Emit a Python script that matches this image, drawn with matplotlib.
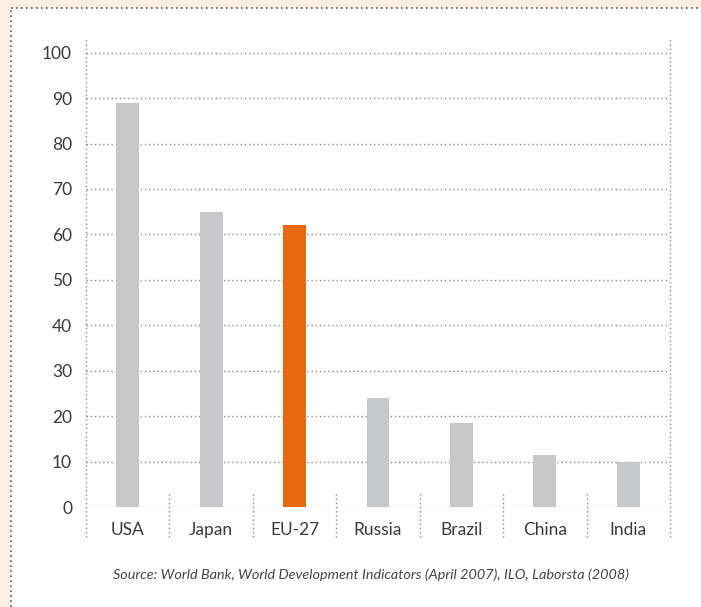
import matplotlib
matplotlib.use("Agg")
import matplotlib.pyplot as plt
from matplotlib.patches import Rectangle
from matplotlib.lines import Line2D

categories = ["USA", "Japan", "EU-27", "Russia", "Brazil", "China", "India"]
values = [89, 65, 62, 24, 18.5, 11.5, 10]
highlight = "EU-27"
yticks = [0, 10, 20, 30, 40, 50, 60, 70, 80, 90, 100]
source = "Source: World Bank, World Development Indicators (April 2007), ILO, Laborsta (2008)"

plt.rcParams['font.family'] = ['Lato', 'DejaVu Sans']

W, H = 701, 607
fig = plt.figure(figsize=(W / 100, H / 100), dpi=100)
fig.patch.set_facecolor("#FDF0E3")

# white panel with dotted border
fig.patches.append(Rectangle((11 / W, 0), 1 - 11 / W, (H - 8) / H, transform=fig.transFigure,
                             facecolor="white", edgecolor="none", zorder=-10))
fig.lines.append(Line2D([11 / W, 1], [(H - 8) / H] * 2, transform=fig.transFigure,
                        color="#555555", lw=1.2, linestyle=(0, (1, 2)), zorder=-9))
fig.lines.append(Line2D([11 / W] * 2, [0, (H - 8) / H], transform=fig.transFigure,
                        color="#555555", lw=1.2, linestyle=(0, (1, 2)), zorder=-9))

left, right = 86 / W, 670 / W
bottom, top = (H - 507) / H, (H - 39) / H
ax = fig.add_axes([left, bottom, right - left, top - bottom])
ax.set_zorder(5)
ax.set_facecolor("none")

x = list(range(len(categories)))
colors = ["#E8670F" if c == highlight else "#C6C7C8" for c in categories]
ax.bar(x, values, width=0.275, color=colors, zorder=3)

ax.set_xlim(-0.5, len(categories) - 0.5)
ax.set_ylim(0, 103)
for s in ax.spines.values():
    s.set_visible(False)

grid_color = "#8a8a8a"
dot = (0, (1, 2))
for v in yticks:
    ax.axhline(v, color=grid_color, lw=1, linestyle=dot, zorder=1)

# left and right vertical dotted lines (extend below axis)
for xv in [-0.5, len(categories) - 0.5]:
    ax.plot([xv, xv], [-6.5, 103], color=grid_color, lw=1, linestyle=dot, clip_on=False, zorder=1)
# category separators
for i in range(1, len(categories)):
    xv = i - 0.5
    ax.plot([xv, xv], [-6.5, 3.3], color=grid_color, lw=1, linestyle=dot, clip_on=False, zorder=1)

ax.set_yticks(yticks)
ax.set_yticklabels([str(v) for v in yticks])
ax.set_xticks(x)
ax.set_xticklabels(categories)
ax.tick_params(axis="both", length=0, labelsize=12.5, labelcolor="#3a3a3a")
ax.tick_params(axis="y", pad=10)
ax.tick_params(axis="x", pad=11)

fig.text(371 / W, 1 - 575 / H, source, ha="center", va="center", fontsize=10.4,
         style="italic", color="#444444")

fig.savefig("out.png", dpi=100, facecolor=fig.get_facecolor())
